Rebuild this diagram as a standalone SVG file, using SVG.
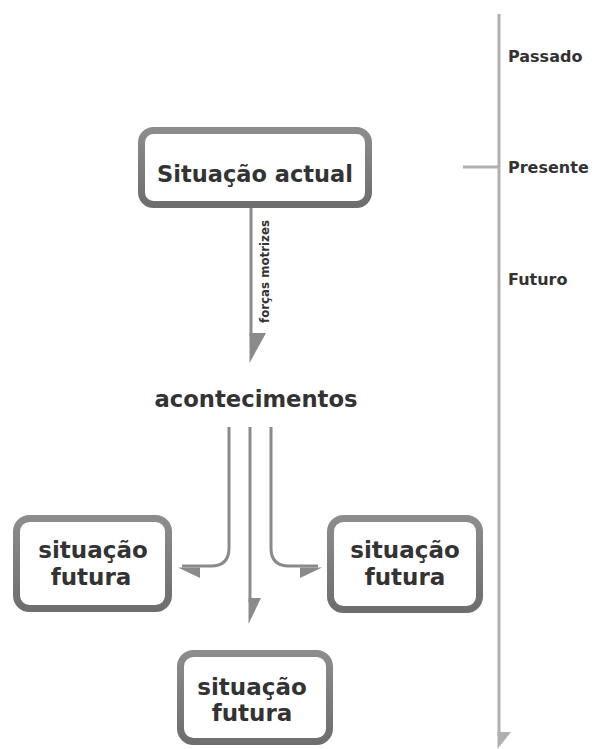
<svg xmlns="http://www.w3.org/2000/svg" width="599" height="749" viewBox="0 0 599 749">
<style>
.box{fill:#fff;stroke:url(#boxg);stroke-width:7}
.t{font-family:"DejaVu Sans","Open Sans",sans-serif;font-weight:bold;fill:#333;text-anchor:middle}
.lbl{font-family:"DejaVu Sans","Open Sans",sans-serif;font-weight:bold;fill:#333;font-size:16px}
.ln{fill:none;stroke:#8a8a8a;stroke-width:3}
.tl{fill:none;stroke:#b0b0b0;stroke-width:3}
.ah{fill:#8a8a8a}
</style>
<defs>
<linearGradient id="boxg" x1="0" y1="0" x2="0" y2="1">
<stop offset="0" stop-color="#8c8c8c"/>
<stop offset="1" stop-color="#6e6e6e"/>
</linearGradient>
<linearGradient id="topg" x1="0" y1="0" x2="0" y2="1">
<stop offset="0" stop-color="#e6e6e6"/>
<stop offset="1" stop-color="#8a8a8a"/>
</linearGradient>
</defs>
<rect width="599" height="749" fill="#fff"/>
<g id="timeline">
<line class="tl" x1="499" y1="14" x2="499" y2="736"/>
<polygon points="497.5,732 511,732 497.5,749" fill="#b0b0b0"/>
<line class="tl" x1="463" y1="167" x2="499" y2="167"/>
<text class="lbl" x="508" y="62">Passado</text>
<text class="lbl" x="508" y="173">Presente</text>
<text class="lbl" x="508" y="285">Futuro</text>
</g>
<g id="connectors">
<line x1="251" y1="18" x2="251" y2="128" stroke="url(#topg)" stroke-width="3"/>
<line class="ln" x1="251" y1="208" x2="251" y2="336"/>
<polygon class="ah" points="249.5,333 266,333 249.5,363"/>
<path class="ln" d="M229,427 V548 Q229,566 211,566 H182"/>
<polygon class="ah" points="178,567.5 200,567.5 200,578"/>
<line class="ln" x1="250" y1="427" x2="250" y2="602"/>
<polygon class="ah" points="248.5,598 261,598 248.5,624"/>
<path class="ln" d="M271,427 V548 Q271,566 289,566 H318"/>
<polygon class="ah" points="322,567.5 300,567.5 300,578"/>
</g>
<g id="node-actual">
<rect class="box" x="141.5" y="130.5" width="227" height="74" rx="12"/>
<text class="t" x="255" y="182" font-size="22.5">Situação actual</text>
</g>
<g id="node-forcas">
<text x="269" y="323" transform="rotate(-90 269 323)" font-family="DejaVu Sans, Open Sans, sans-serif" font-weight="bold" font-size="11.8" fill="#333">forças motrizes</text>
</g>
<g id="node-acontecimentos">
<text class="t" x="256" y="407" font-size="22.7">acontecimentos</text>
</g>
<g id="node-futura-left">
<rect class="box" x="16.5" y="518.5" width="152" height="90" rx="13"/>
<text class="t" x="93" y="558" font-size="23">situação</text>
<text class="t" x="91" y="585" font-size="23">futura</text>
</g>
<g id="node-futura-right">
<rect class="box" x="330.5" y="518.5" width="149" height="91" rx="13"/>
<text class="t" x="405" y="558" font-size="23">situação</text>
<text class="t" x="405" y="585" font-size="23">futura</text>
</g>
<g id="node-futura-bottom">
<rect class="box" x="180.5" y="653.5" width="149" height="88" rx="13"/>
<text class="t" x="252" y="695" font-size="23">situação</text>
<text class="t" x="252" y="721" font-size="23">futura</text>
</g>
</svg>
